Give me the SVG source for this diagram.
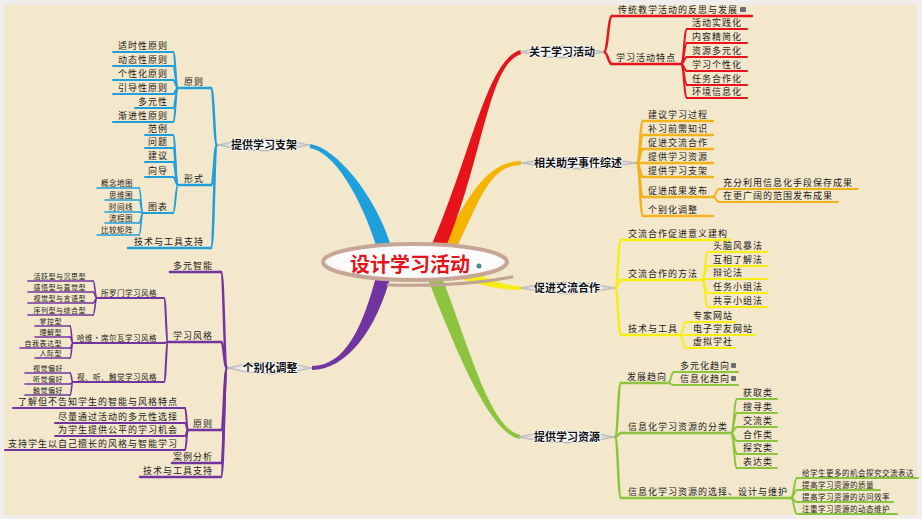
<svg xmlns="http://www.w3.org/2000/svg" width="922" height="519" viewBox="0 0 922 519">
<defs>
<radialGradient id="lg" cx="0.5" cy="0.5" r="0.5">
<stop offset="0" stop-color="#ffffff"/><stop offset="0.6" stop-color="#f6f6f6"/><stop offset="1" stop-color="#b9b9b9"/>
</radialGradient>
<radialGradient id="cg" cx="0.5" cy="0.45" r="0.55">
<stop offset="0" stop-color="#ffffff"/><stop offset="0.8" stop-color="#fdfcfb"/><stop offset="1" stop-color="#efe8e4"/>
</radialGradient>
</defs>
<style>
.ln{fill:none;stroke-linecap:round}
.r{stroke:#e8141c}.o{stroke:#f2b21c}.y{stroke:#f6ee12}.g{stroke:#8cc43f}.b{stroke:#1ea0dc}.p{stroke:#7134a0}
.w1{stroke-width:2.5}.w2{stroke-width:2}.w3{stroke-width:1.6}
.t{font-family:"Noto Sans CJK SC","Noto Sans CJK JP",sans-serif;fill:#1a1a1a}
.f10{font-size:9px;letter-spacing:1px}.f8{font-size:7.5px;letter-spacing:0.5px}.f7{font-size:7px;letter-spacing:0.5px}
.e{text-anchor:end}
.mt{font-family:"Noto Sans CJK SC","Noto Sans CJK JP",sans-serif;font-size:11px;font-weight:bold;text-anchor:middle;fill:#111;stroke:#fff;stroke-width:1.5;paint-order:stroke}
.lens{fill:url(#lg);stroke:#b5b5b5;stroke-width:0.8}
.ic{fill:#6d6d6d}
</style>
<rect x="0" y="0" width="922" height="519" fill="#f0edea"/>
<rect x="4" y="5" width="913" height="510" fill="#f3e8cb"/>

<g id="main-branches">
<path fill="#f5b400" d="M448.3,265.1 C481.3,198.1 488.1,166 521.1,165 L520.9,161 C487.9,162 468.7,191.9 435.7,258.9 Z"/>
<path fill="#e8141c" d="M438.4,264.9 C484.4,162.9 486.5,63.9 521.5,53.9 L520.5,50.1 C485.5,60.1 471.6,157.1 425.6,259.1 Z"/>
<path fill="#f6ee12" d="M453.6,276.8 C486.6,286.8 500,290 521,290 L521,286 C500,286 489.5,277.2 456.5,267.2 Z"/>
<path fill="#8cc43f" d="M436.5,263.4 C468.5,342.4 488.4,428 520.4,435 L519.6,439 C487.6,432 455.5,347.6 423.5,268.6 Z"/>
<path fill="#1ea0dc" d="M391.7,247.9 C374.7,192.9 335.3,148 310.3,144 L309.7,148 C334.7,152 361.3,197.1 378.3,252.1 Z"/>
<path fill="#7134a0" d="M391.8,271.7 C376.8,331.7 345,370 312,370 L312,366 C345,366 363.2,328.3 378.2,268.3 Z"/>
</g>

<g id="connectors" class="ln">
<g class="r w1">
<path d="M604,52 C608,52 608,16 612,16"/><path d="M604,52 C608,52 608,64 612,64"/>
</g>
<g class="r w2">
<path d="M681,64 C684,64 684,29 687,29"/><path d="M681,64 C684,64 684,43 687,43"/><path d="M681,64 C684,64 684,57 687,57"/><path d="M681,64 C684,64 684,71 687,71"/><path d="M681,64 C684,64 684,85 687,85"/><path d="M681,64 C684,64 684,98 687,98"/>
</g>
<g class="o w1">
<path d="M637,163 C640,163 640,121 643,121"/><path d="M637,163 C640,163 640,135 643,135"/><path d="M637,163 C640,163 640,149 643,149"/><path d="M637,163 L643,163"/><path d="M637,163 C640,163 640,177 643,177"/><path d="M637,163 C640,163 640,197 643,197"/><path d="M637,163 C640,163 640,216 643,216"/>
</g>
<g class="o w2">
<path d="M713,197 C716,197 716,189 719,189"/><path d="M713,197 C716,197 716,202 719,202"/>
</g>
<g class="y w1">
<path d="M615,288 C618,288 618,240 621,240"/><path d="M615,288 C618,288 618,280 621,280"/><path d="M615,288 C618,288 618,335 621,335"/>
</g>
<g class="y w2">
<path d="M702,280 C705,280 705,252 708,252"/><path d="M702,280 C705,280 705,266 708,266"/><path d="M702,280 C705,280 705,279 708,279"/><path d="M702,280 C705,280 705,293 708,293"/><path d="M702,280 C705,280 705,307 708,307"/>
<path d="M680,335 C683,335 683,322 686,322"/><path d="M680,335 L686,335"/><path d="M680,335 C683,335 683,348 686,348"/>
</g>
<g class="g w1">
<path d="M615,437 C618,437 618,383 621,383"/><path d="M615,437 C618,437 618,433 621,433"/><path d="M615,437 C618,437 618,498 621,498"/>
</g>
<g class="g w2">
<path d="M668,383 C671,383 671,372 674,372"/><path d="M668,383 C671,383 671,385 674,385"/>
<path d="M731,433 C734,433 734,399 737,399"/><path d="M731,433 C734,433 734,413 737,413"/><path d="M731,433 C734,433 734,427 737,427"/><path d="M731,433 C734,433 734,441 737,441"/><path d="M731,433 C734,433 734,454 737,454"/><path d="M731,433 C734,433 734,468 737,468"/>
<path d="M791,498 C794,498 794,478 797,478"/><path d="M791,498 C794,498 794,490 797,490"/><path d="M791,498 C794,498 794,502 797,502"/><path d="M791,498 C794,498 794,514 797,514"/>
</g>
<g class="b w1">
<path d="M217,145 C214,145 214,88 211,88"/><path d="M217,145 C214,145 214,185 211,185"/><path d="M217,145 C214,145 214,248 211,248"/>
</g>
<g class="b w2">
<path d="M178,88 C175.5,88 175.5,52 173,52"/><path d="M178,88 C175.5,88 175.5,66 173,66"/><path d="M178,88 C175.5,88 175.5,80 173,80"/><path d="M178,88 C175.5,88 175.5,94 173,94"/><path d="M178,88 C175.5,88 175.5,108 173,108"/><path d="M178,88 C175.5,88 175.5,122 173,122"/>
<path d="M178,185 C175.5,185 175.5,135 173,135"/><path d="M178,185 C175.5,185 175.5,148 173,148"/><path d="M178,185 C175.5,185 175.5,162 173,162"/><path d="M178,185 C175.5,185 175.5,177 173,177"/><path d="M178,185 C175.5,185 175.5,213 173,213"/>
</g>
<g class="b w3">
<path d="M143,213 C141,213 141,188 139,188"/><path d="M143,213 C141,213 141,200 139,200"/><path d="M143,213 L139,212"/><path d="M143,213 C141,213 141,223 139,223"/><path d="M143,213 C141,213 141,235 139,235"/>
</g>
<g class="p w1">
<path d="M227,368 C224,368 224,272 221,272"/><path d="M227,368 C224,368 224,342 221,342"/><path d="M227,368 C224,368 224,430 221,430"/><path d="M227,368 C224,368 224,463 221,463"/><path d="M227,368 C224,368 224,477 221,477"/>
</g>
<g class="p w2">
<path d="M168,342 C166,342 166,298 164,298"/><path d="M168,342 L164,343"/><path d="M168,342 C166,342 166,382 164,382"/>
<path d="M188,430 C186.5,430 186.5,408 185,408"/><path d="M188,430 C186.5,430 186.5,423 185,423"/><path d="M188,430 C186.5,430 186.5,436 185,436"/><path d="M188,430 C186.5,430 186.5,450 185,450"/>
</g>
<g class="p w3">
<path d="M97,298 C95,298 95,281 93,281"/><path d="M97,298 C95,298 95,292 93,292"/><path d="M97,298 C95,298 95,303 93,303"/><path d="M97,298 C95,298 95,315 93,315"/>
<path d="M73,343 C71.5,343 71.5,326 70,326"/><path d="M73,343 C71.5,343 71.5,337 70,337"/><path d="M73,343 C71.5,343 71.5,348 70,348"/><path d="M73,343 C71.5,343 71.5,358 70,358"/>
<path d="M73,382 C71.5,382 71.5,373 70,373"/><path d="M73,382 C71.5,382 71.5,384 70,384"/><path d="M73,382 C71.5,382 71.5,395 70,395"/>
</g>
</g>

<g id="center">
<ellipse cx="415" cy="262" rx="92" ry="18" fill="url(#cg)" stroke="#c6a797" stroke-width="4"/>
<path d="M388,285 Q460,287 512,277" fill="none" stroke="#c0a596" stroke-width="3" stroke-linecap="round"/>
<text x="410" y="272" font-family="'Noto Sans CJK SC','Noto Sans CJK JP',sans-serif" font-size="20" font-weight="bold" fill="#e3141c" text-anchor="middle">设计学习活动</text>
<circle cx="479" cy="266" r="2.5" fill="#4f8a8b"/>
</g>

<!-- Red branch -->
<g id="n-about"><path class="lens" d="M520,52 Q562,40 604,52 Q562,64 520,52 Z"/><text class="mt" x="562" y="56">关于学习活动</text></g>
<g id="n-about-1"><line class="ln r w1" x1="612" y1="16" x2="752" y2="16"/><text class="t f10" x="618" y="13">传统教学活动的反思与发展</text><rect class="ic" x="740" y="7" width="6" height="5" rx="1"/></g>
<g id="n-about-2"><line class="ln r w1" x1="612" y1="64" x2="681" y2="64"/><text class="t f10" x="616" y="61">学习活动特点</text></g>
<g id="n-about-2-1"><line class="ln r w2" x1="687" y1="29" x2="747" y2="29"/><text class="t f10" x="692" y="26">活动实践化</text></g>
<g id="n-about-2-2"><line class="ln r w2" x1="687" y1="43" x2="747" y2="43"/><text class="t f10" x="692" y="40">内容精简化</text></g>
<g id="n-about-2-3"><line class="ln r w2" x1="687" y1="57" x2="747" y2="57"/><text class="t f10" x="692" y="54">资源多元化</text></g>
<g id="n-about-2-4"><line class="ln r w2" x1="687" y1="71" x2="747" y2="71"/><text class="t f10" x="692" y="68">学习个性化</text></g>
<g id="n-about-2-5"><line class="ln r w2" x1="687" y1="85" x2="747" y2="85"/><text class="t f10" x="692" y="82">任务合作化</text></g>
<g id="n-about-2-6"><line class="ln r w2" x1="687" y1="98" x2="747" y2="98"/><text class="t f10" x="692" y="95">环境信息化</text></g>

<!-- Orange branch -->
<g id="n-events"><path class="lens" d="M520,163 Q578.5,151 637,163 Q578.5,175 520,163 Z"/><text class="mt" x="578" y="167">相关助学事件综述</text></g>
<g id="n-events-1"><line class="ln o w1" x1="643" y1="121" x2="713" y2="121"/><text class="t f10" x="648" y="118">建议学习过程</text></g>
<g id="n-events-2"><line class="ln o w1" x1="643" y1="135" x2="713" y2="135"/><text class="t f10" x="648" y="132">补习前需知识</text></g>
<g id="n-events-3"><line class="ln o w1" x1="643" y1="149" x2="713" y2="149"/><text class="t f10" x="648" y="146">促进交流合作</text></g>
<g id="n-events-4"><line class="ln o w1" x1="643" y1="163" x2="713" y2="163"/><text class="t f10" x="648" y="160">提供学习资源</text></g>
<g id="n-events-5"><line class="ln o w1" x1="643" y1="177" x2="713" y2="177"/><text class="t f10" x="648" y="174">提供学习支架</text></g>
<g id="n-events-6"><line class="ln o w1" x1="643" y1="197" x2="713" y2="197"/><text class="t f10" x="648" y="194">促进成果发布</text></g>
<g id="n-events-6-1"><line class="ln o w2" x1="719" y1="189" x2="858" y2="189"/><text class="t f10" x="723" y="186">充分利用信息化手段保存成果</text></g>
<g id="n-events-6-2"><line class="ln o w2" x1="719" y1="202" x2="838" y2="202"/><text class="t f10" x="723" y="199">在更广阔的范围发布成果</text></g>
<g id="n-events-7"><line class="ln o w1" x1="643" y1="216" x2="713" y2="216"/><text class="t f10" x="648" y="213">个别化调整</text></g>

<!-- Yellow branch -->
<g id="n-collab"><path class="lens" d="M520,288 Q567.5,276 615,288 Q567.5,300 520,288 Z"/><text class="mt" x="567" y="292">促进交流合作</text></g>
<g id="n-collab-1"><line class="ln y w1" x1="621" y1="240" x2="730" y2="240"/><text class="t f10" x="628" y="237">交流合作促进意义建构</text></g>
<g id="n-collab-2"><line class="ln y w1" x1="621" y1="280" x2="702" y2="280"/><text class="t f10" x="628" y="277">交流合作的方法</text></g>
<g id="n-collab-2-1"><line class="ln y w2" x1="708" y1="252" x2="767" y2="252"/><text class="t f10" x="713" y="249">头脑风暴法</text></g>
<g id="n-collab-2-2"><line class="ln y w2" x1="708" y1="266" x2="767" y2="266"/><text class="t f10" x="713" y="263">互相了解法</text></g>
<g id="n-collab-2-3"><line class="ln y w2" x1="708" y1="279" x2="767" y2="279"/><text class="t f10" x="713" y="276">辩论法</text></g>
<g id="n-collab-2-4"><line class="ln y w2" x1="708" y1="293" x2="767" y2="293"/><text class="t f10" x="713" y="290">任务小组法</text></g>
<g id="n-collab-2-5"><line class="ln y w2" x1="708" y1="307" x2="767" y2="307"/><text class="t f10" x="713" y="304">共享小组法</text></g>
<g id="n-collab-3"><line class="ln y w1" x1="621" y1="335" x2="680" y2="335"/><text class="t f10" x="628" y="332">技术与工具</text></g>
<g id="n-collab-3-1"><line class="ln y w2" x1="686" y1="322" x2="735" y2="322"/><text class="t f10" x="693" y="319">专家网站</text></g>
<g id="n-collab-3-2"><line class="ln y w2" x1="686" y1="335" x2="755" y2="335"/><text class="t f10" x="693" y="332">电子学友网站</text></g>
<g id="n-collab-3-3"><line class="ln y w2" x1="686" y1="348" x2="735" y2="348"/><text class="t f10" x="693" y="345">虚拟学社</text></g>

<!-- Green branch -->
<g id="n-res"><path class="lens" d="M518,437 Q566.5,425 615,437 Q566.5,449 518,437 Z"/><text class="mt" x="567" y="441">提供学习资源</text></g>
<g id="n-res-1"><line class="ln g w1" x1="621" y1="383" x2="668" y2="383"/><text class="t f10" x="627" y="380">发展趋向</text></g>
<g id="n-res-1-1"><line class="ln g w2" x1="674" y1="372" x2="738" y2="372"/><text class="t f10" x="680" y="369">多元化趋向</text><rect class="ic" x="731" y="363" width="5" height="5" rx="1"/></g>
<g id="n-res-1-2"><line class="ln g w2" x1="674" y1="385" x2="738" y2="385"/><text class="t f10" x="680" y="382">信息化趋向</text><rect class="ic" x="731" y="376" width="5" height="5" rx="1"/></g>
<g id="n-res-2"><line class="ln g w1" x1="621" y1="433" x2="731" y2="433"/><text class="t f10" x="628" y="430">信息化学习资源的分类</text></g>
<g id="n-res-2-1"><line class="ln g w2" x1="737" y1="399" x2="777" y2="399"/><text class="t f10" x="743" y="396">获取类</text></g>
<g id="n-res-2-2"><line class="ln g w2" x1="737" y1="413" x2="777" y2="413"/><text class="t f10" x="743" y="410">搜寻类</text></g>
<g id="n-res-2-3"><line class="ln g w2" x1="737" y1="427" x2="777" y2="427"/><text class="t f10" x="743" y="424">交流类</text></g>
<g id="n-res-2-4"><line class="ln g w2" x1="737" y1="441" x2="777" y2="441"/><text class="t f10" x="743" y="438">合作类</text></g>
<g id="n-res-2-5"><line class="ln g w2" x1="737" y1="454" x2="777" y2="454"/><text class="t f10" x="743" y="451">探究类</text></g>
<g id="n-res-2-6"><line class="ln g w2" x1="737" y1="468" x2="777" y2="468"/><text class="t f10" x="743" y="465">表达类</text></g>
<g id="n-res-3"><line class="ln g w1" x1="621" y1="498" x2="791" y2="498"/><text class="t f10" x="628" y="495">信息化学习资源的选择、设计与维护</text></g>
<g id="n-res-3-1"><line class="ln g w2" x1="797" y1="478" x2="918" y2="478"/><text class="t f8" x="802" y="475.5">给学生更多的机会探究交流表达</text></g>
<g id="n-res-3-2"><line class="ln g w2" x1="797" y1="490" x2="880" y2="490"/><text class="t f8" x="802" y="487.5">提高学习资源的质量</text></g>
<g id="n-res-3-3"><line class="ln g w2" x1="797" y1="502" x2="893" y2="502"/><text class="t f8" x="802" y="499.5">提高学习资源的访问效率</text></g>
<g id="n-res-3-4"><line class="ln g w2" x1="797" y1="514" x2="897" y2="514"/><text class="t f8" x="802" y="511.5">注重学习资源的动态维护</text></g>

<!-- Blue branch -->
<g id="n-scaf"><path class="lens" d="M217,145 Q263.5,133 310,145 Q263.5,157 217,145 Z"/><text class="mt" x="264" y="149">提供学习支架</text></g>
<g id="n-scaf-1"><line class="ln b w1" x1="178" y1="88" x2="211" y2="88"/><text class="t f10 e" x="204" y="85">原则</text></g>
<g id="n-scaf-1-1"><line class="ln b w2" x1="113" y1="52" x2="173" y2="52"/><text class="t f10 e" x="168" y="49">适时性原则</text></g>
<g id="n-scaf-1-2"><line class="ln b w2" x1="113" y1="66" x2="173" y2="66"/><text class="t f10 e" x="168" y="63">动态性原则</text></g>
<g id="n-scaf-1-3"><line class="ln b w2" x1="113" y1="80" x2="173" y2="80"/><text class="t f10 e" x="168" y="77">个性化原则</text></g>
<g id="n-scaf-1-4"><line class="ln b w2" x1="113" y1="94" x2="173" y2="94"/><text class="t f10 e" x="168" y="91">引导性原则</text></g>
<g id="n-scaf-1-5"><line class="ln b w2" x1="135" y1="108" x2="173" y2="108"/><text class="t f10 e" x="168" y="105">多元性</text></g>
<g id="n-scaf-1-6"><line class="ln b w2" x1="113" y1="122" x2="173" y2="122"/><text class="t f10 e" x="168" y="119">渐进性原则</text></g>
<g id="n-scaf-2"><line class="ln b w1" x1="178" y1="185" x2="211" y2="185"/><text class="t f10 e" x="204" y="182">形式</text></g>
<g id="n-scaf-2-1"><line class="ln b w2" x1="145" y1="135" x2="173" y2="135"/><text class="t f10 e" x="168" y="132">范例</text></g>
<g id="n-scaf-2-2"><line class="ln b w2" x1="145" y1="148" x2="173" y2="148"/><text class="t f10 e" x="168" y="145">问题</text></g>
<g id="n-scaf-2-3"><line class="ln b w2" x1="145" y1="162" x2="173" y2="162"/><text class="t f10 e" x="168" y="159">建议</text></g>
<g id="n-scaf-2-4"><line class="ln b w2" x1="145" y1="177" x2="173" y2="177"/><text class="t f10 e" x="168" y="174">向导</text></g>
<g id="n-scaf-2-5"><line class="ln b w2" x1="143" y1="213" x2="173" y2="213"/><text class="t f10 e" x="168" y="210">图表</text></g>
<g id="n-scaf-2-5-1"><line class="ln b w3" x1="97" y1="188" x2="139" y2="188"/><text class="t f8 e" x="133" y="185.5">概念地图</text></g>
<g id="n-scaf-2-5-2"><line class="ln b w3" x1="105" y1="200" x2="139" y2="200"/><text class="t f8 e" x="133" y="197.5">思维图</text></g>
<g id="n-scaf-2-5-3"><line class="ln b w3" x1="105" y1="212" x2="139" y2="212"/><text class="t f8 e" x="133" y="209.5">时间线</text></g>
<g id="n-scaf-2-5-4"><line class="ln b w3" x1="105" y1="223" x2="139" y2="223"/><text class="t f8 e" x="133" y="220.5">流程图</text></g>
<g id="n-scaf-2-5-5"><line class="ln b w3" x1="97" y1="235" x2="139" y2="235"/><text class="t f8 e" x="133" y="232.5">比较矩阵</text></g>
<g id="n-scaf-3"><line class="ln b w1" x1="128" y1="248" x2="211" y2="248"/><text class="t f10 e" x="204" y="245">技术与工具支持</text></g>

<!-- Purple branch -->
<g id="n-indiv"><path class="lens" d="M227,368 Q269.5,356 312,368 Q269.5,380 227,368 Z"/><text class="mt" x="270" y="372">个别化调整</text></g>
<g id="n-indiv-1"><line class="ln p w1" x1="170" y1="272" x2="221" y2="272"/><text class="t f10 e" x="213" y="269">多元智能</text></g>
<g id="n-indiv-2"><line class="ln p w1" x1="168" y1="342" x2="221" y2="342"/><text class="t f10 e" x="213" y="339">学习风格</text></g>
<g id="n-indiv-2-1"><line class="ln p w2" x1="97" y1="298" x2="164" y2="298"/><text class="t f8 e" x="157" y="295.5">所罗门学习风格</text></g>
<g id="n-indiv-2-1-1"><line class="ln p w3" x1="28" y1="281" x2="93" y2="281"/><text class="t f7 e" x="86" y="279">活跃型与沉思型</text></g>
<g id="n-indiv-2-1-2"><line class="ln p w3" x1="28" y1="292" x2="93" y2="292"/><text class="t f7 e" x="86" y="290">感悟型与直觉型</text></g>
<g id="n-indiv-2-1-3"><line class="ln p w3" x1="28" y1="303" x2="93" y2="303"/><text class="t f7 e" x="86" y="301">视觉型与言语型</text></g>
<g id="n-indiv-2-1-4"><line class="ln p w3" x1="28" y1="315" x2="93" y2="315"/><text class="t f7 e" x="86" y="313">序列型与综合型</text></g>
<g id="n-indiv-2-2"><line class="ln p w2" x1="73" y1="343" x2="164" y2="343"/><text class="t f8 e" x="157" y="340.5">哈维·席尔瓦学习风格</text></g>
<g id="n-indiv-2-2-1"><line class="ln p w3" x1="35" y1="326" x2="70" y2="326"/><text class="t f7 e" x="62" y="324">掌控型</text></g>
<g id="n-indiv-2-2-2"><line class="ln p w3" x1="35" y1="337" x2="70" y2="337"/><text class="t f7 e" x="62" y="335">理解型</text></g>
<g id="n-indiv-2-2-3"><line class="ln p w3" x1="20" y1="348" x2="70" y2="348"/><text class="t f7 e" x="62" y="346">自我表达型</text></g>
<g id="n-indiv-2-2-4"><line class="ln p w3" x1="35" y1="358" x2="70" y2="358"/><text class="t f7 e" x="62" y="356">人际型</text></g>
<g id="n-indiv-2-3"><line class="ln p w2" x1="73" y1="382" x2="164" y2="382"/><text class="t f8 e" x="157" y="379.5">视、听、触觉学习风格</text></g>
<g id="n-indiv-2-3-1"><line class="ln p w3" x1="25" y1="373" x2="70" y2="373"/><text class="t f7 e" x="63" y="370.5">视觉偏好</text></g>
<g id="n-indiv-2-3-2"><line class="ln p w3" x1="25" y1="384" x2="70" y2="384"/><text class="t f7 e" x="63" y="382">听觉偏好</text></g>
<g id="n-indiv-2-3-3"><line class="ln p w3" x1="25" y1="395" x2="70" y2="395"/><text class="t f7 e" x="63" y="393">触觉偏好</text></g>
<g id="n-indiv-3"><line class="ln p w1" x1="188" y1="430" x2="221" y2="430"/><text class="t f10 e" x="213" y="427">原则</text></g>
<g id="n-indiv-3-1"><line class="ln p w2" x1="13" y1="408" x2="185" y2="408"/><text class="t f10 e" x="178" y="405">了解但不告知学生的智能与风格特点</text></g>
<g id="n-indiv-3-2"><line class="ln p w2" x1="55" y1="423" x2="185" y2="423"/><text class="t f10 e" x="178" y="420">尽量通过活动的多元性选择</text></g>
<g id="n-indiv-3-3"><line class="ln p w2" x1="55" y1="436" x2="185" y2="436"/><text class="t f10 e" x="178" y="433">为学生提供公平的学习机会</text></g>
<g id="n-indiv-3-4"><line class="ln p w2" x1="5" y1="450" x2="185" y2="450"/><text class="t f10 e" x="178" y="447">支持学生以自己擅长的风格与智能学习</text></g>
<g id="n-indiv-4"><line class="ln p w1" x1="172" y1="463" x2="221" y2="463"/><text class="t f10 e" x="213" y="460">案例分析</text></g>
<g id="n-indiv-5"><line class="ln p w1" x1="140" y1="477" x2="221" y2="477"/><text class="t f10 e" x="213" y="474">技术与工具支持</text></g>
</svg>
